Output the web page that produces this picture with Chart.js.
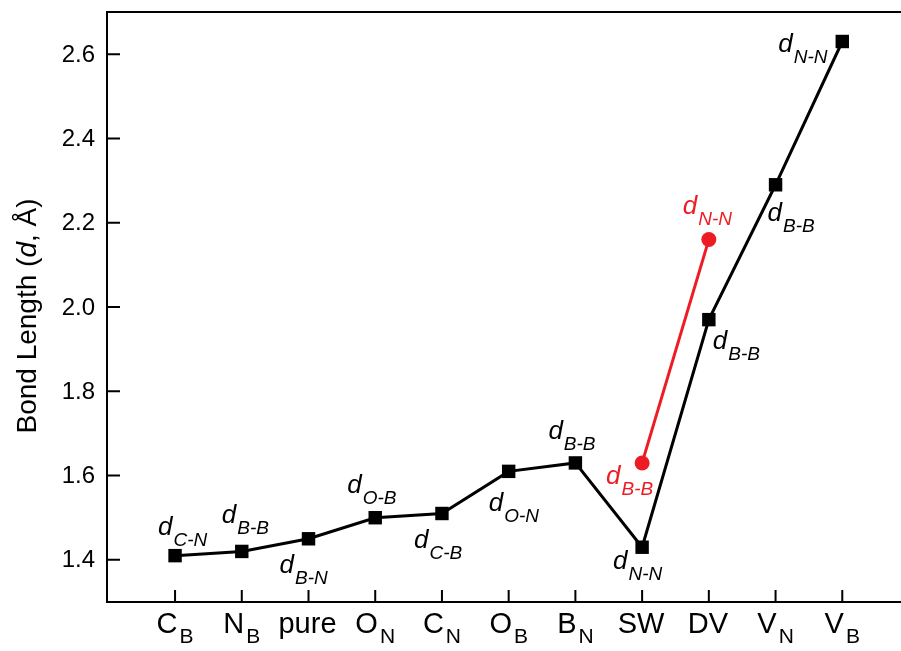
<!DOCTYPE html>
<html>
<head>
<meta charset="utf-8">
<script src="https://cdn.jsdelivr.net/npm/chart.js@4.4.0/dist/chart.umd.min.js"></script>
<style>
  html, body { margin: 0; padding: 0; background: #fff; overflow: hidden; }
</style>
</head>
<body>
<canvas id="chart" width="901" height="651"></canvas>
<script>
(() => {
  'use strict';

  // data
  const categories = ['C_B', 'N_B', 'pure', 'O_N', 'C_N', 'O_B', 'B_N', 'SW', 'DV', 'V_N', 'V_B'];
  const bondLength = [1.41, 1.42, 1.45, 1.50, 1.51, 1.61, 1.63, 1.43, 1.97, 2.29, 2.63];
  const bondLabels = ['C-N', 'B-B', 'B-N', 'O-B', 'C-B', 'O-N', 'B-B', 'N-N', 'B-B', 'B-B', 'N-N'];
  const redCategories = ['SW', 'DV'];
  const redLength = [1.63, 2.16];
  const redLabels = ['B-B', 'N-N'];
  const yTicks = [1.4, 1.6, 1.8, 2.0, 2.2, 2.4, 2.6];

  // label placement (pixel offsets from each point)
  const blackOffsets = [[-17, -21], [-20, -28], [-29, 34], [-28, -25], [-28, 34], [-20, 40], [-27, -24], [-29, 22], [4, 29], [-8, 36], [-64, 10]];
  const redOffsets = [[-36, 21], [-26, -26]];

  const FAMILY = '"Liberation Sans", Arial, sans-serif';
  const RED = 'rgb(237, 28, 36)';

  const drawParts = (ctx, x, y, parts) => {
    parts.forEach(p => {
      ctx.font = p.font;
      ctx.fillText(p.text, x, y + (p.dy || 0));
      x += ctx.measureText(p.text).width + (p.gap || 0);
    });
  };
  const partsWidth = (ctx, parts) => parts.reduce((w, p) => {
    ctx.font = p.font;
    return w + ctx.measureText(p.text).width + (p.gap || 0);
  }, 0);

  const decor = {
    id: 'decor',
    afterDatasetsDraw(chart) {
      const {ctx, chartArea: area, scales: {x, y}} = chart;
      ctx.save();
      ctx.strokeStyle = '#000';
      ctx.fillStyle = '#000';
      ctx.lineWidth = 2;

      // top frame line
      ctx.beginPath();
      ctx.moveTo(area.left, area.top);
      ctx.lineTo(area.right, area.top);
      ctx.stroke();

      // inward tick marks
      ctx.beginPath();
      categories.forEach((c, i) => {
        const px = x.getPixelForValue(i);
        ctx.moveTo(px, area.bottom);
        ctx.lineTo(px, area.bottom - 12);
      });
      yTicks.forEach(v => {
        const py = y.getPixelForValue(v);
        ctx.moveTo(area.left, py);
        ctx.lineTo(area.left + 13, py);
      });
      ctx.stroke();

      // y tick labels
      ctx.font = `24px ${FAMILY}`;
      ctx.textAlign = 'right';
      ctx.textBaseline = 'middle';
      yTicks.forEach(v => {
        ctx.fillText(v.toFixed(1), area.left - 12, y.getPixelForValue(v) + 1);
      });

      // x category labels with subscripts
      ctx.textBaseline = 'alphabetic';
      ctx.textAlign = 'left';
      categories.forEach((c, i) => {
        const [main, sub] = c.split('_');
        const parts = [{text: main, font: `29px ${FAMILY}`, gap: 2}];
        if (sub) parts.push({text: sub, font: `21px ${FAMILY}`, dy: 10});
        const w = partsWidth(ctx, parts);
        drawParts(ctx, x.getPixelForValue(i) - w / 2, 633, parts);
      });

      // bond labels d_{X-Y}
      const bondParts = sub => [
        {text: 'd', font: `italic 26px ${FAMILY}`, gap: 1},
        {text: sub, font: `italic 19px ${FAMILY}`, dy: 11}
      ];
      bondLabels.forEach((s, i) => {
        const px = x.getPixelForValue(i);
        const py = y.getPixelForValue(bondLength[i]);
        ctx.fillStyle = '#000';
        drawParts(ctx, px + blackOffsets[i][0], py + blackOffsets[i][1], bondParts(s));
      });
      redLabels.forEach((s, i) => {
        const px = x.getPixelForValue(categories.indexOf(redCategories[i]));
        const py = y.getPixelForValue(redLength[i]);
        ctx.fillStyle = RED;
        drawParts(ctx, px + redOffsets[i][0], py + redOffsets[i][1], bondParts(s));
      });

      // y axis title
      ctx.fillStyle = '#000';
      const title = [
        {text: 'Bond Length (', font: `28px ${FAMILY}`},
        {text: 'd', font: `italic 28px ${FAMILY}`},
        {text: ', Å)', font: `28px ${FAMILY}`}
      ];
      ctx.translate(36, 316);
      ctx.rotate(-Math.PI / 2);
      drawParts(ctx, -partsWidth(ctx, title) / 2, 0, title);
      ctx.restore();
    }
  };

  new Chart(document.getElementById('chart').getContext('2d'), {
    type: 'line',
    data: {
      datasets: [{
        data: categories.map((c, i) => ({x: i, y: bondLength[i]})),
        borderColor: '#000',
        backgroundColor: '#000',
        borderWidth: 3,
        pointStyle: 'rect',
        pointRadius: 9.5,
        pointBorderWidth: 0,
        tension: 0
      }, {
        data: redCategories.map((c, i) => ({x: categories.indexOf(c), y: redLength[i]})),
        borderColor: RED,
        backgroundColor: RED,
        borderWidth: 3,
        pointStyle: 'circle',
        pointRadius: 7.5,
        pointBorderWidth: 0,
        tension: 0
      }]
    },
    options: {
      responsive: false,
      animation: false,
      layout: {autoPadding: false, padding: {top: 12, right: 0, bottom: 0, left: 0}},
      plugins: {legend: {display: false}, tooltip: {enabled: false}},
      scales: {
        x: {
          type: 'linear',
          min: -1.02,
          max: 10.88,
          ticks: {display: false},
          grid: {display: false, drawTicks: false},
          border: {color: '#000', width: 2},
          afterFit: s => { s.height = 49; }
        },
        y: {
          min: 1.3,
          max: 2.7,
          afterBuildTicks: s => { s.ticks = yTicks.map(v => ({value: v})); },
          ticks: {display: false},
          grid: {display: false, drawTicks: false},
          border: {color: '#000', width: 2},
          afterFit: s => { s.width = 107; }
        }
      }
    },
    plugins: [decor]
  });
})();
</script>
</body>
</html>
